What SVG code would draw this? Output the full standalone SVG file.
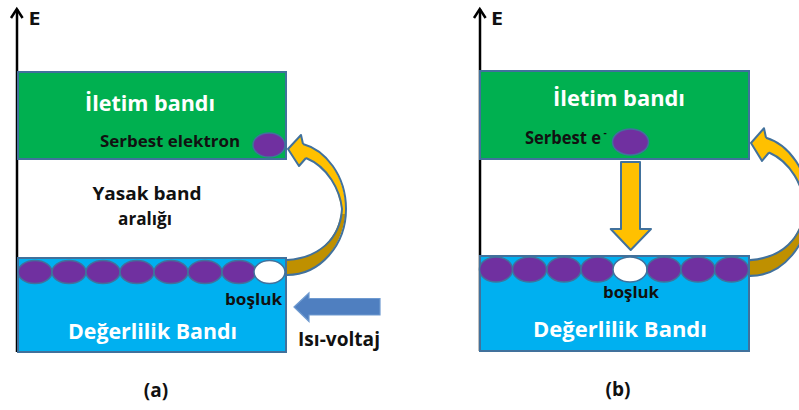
<svg xmlns="http://www.w3.org/2000/svg" width="799" height="410" viewBox="0 0 799 410">
<defs>
<style>
.t{font-family:"Open Sans","Liberation Sans",sans-serif;font-weight:bold;text-anchor:middle}
.w{fill:#ffffff}
.k{fill:#111111}
.band{stroke:#41719C;stroke-width:2}
.green{fill:#00B050}
.blue{fill:#00B0F0}
.pe{fill:#7030A0;stroke:#41719C;stroke-width:1.5}
.ho{fill:#ffffff;stroke:#41719C;stroke-width:1.5}
.axis{stroke:#000;stroke-width:2.5;fill:none}
.ol{fill:none;stroke:#41719C;stroke-width:2;stroke-linejoin:round}
</style>
<g id="curvedArrow">
<path d="M346,204 C346,245 320,275 287,275 L287,260 C318,258 340,240 342,204 Z" fill="#BF9000"/>
<path d="M288,149 L301,135 L303,144 C325,150 346,175 346,214 L342,214 C340,190 328,167 306,158 L299,166 Z" fill="#FFC000"/>
<path class="ol" d="M303,144 C325,150 346,175 346,209 C346,245 320,275 287,275"/>
<path class="ol" d="M306,158 C328,167 340,190 342,209 C340,240 318,258 287,260"/>
<path class="ol" d="M303,144 L301,135 L288,149 L299,166 L306,158"/>
</g>
</defs>

<!-- Panel (a) -->
<g id="axisA">
<line class="axis" x1="17" y1="9" x2="17" y2="352"/>
<polyline class="axis" points="11,18 16.8,9 22.6,18"/>
<text class="t k" x="34.5" y="25" font-size="18" textLength="12" lengthAdjust="spacingAndGlyphs">E</text>
</g>
<g id="conductionA">
<rect class="band green" x="18" y="72" width="268" height="87"/>
<text class="t w" x="150" y="111" font-size="21" textLength="130" lengthAdjust="spacingAndGlyphs">İletim bandı</text>
<text class="t k" x="170" y="147" font-size="16.5" textLength="140" lengthAdjust="spacingAndGlyphs">Serbest elektron</text>
<ellipse class="pe" cx="269" cy="145" rx="16" ry="12"/>
</g>
<g id="gapA">
<text class="t k" x="147" y="200" font-size="18" textLength="109" lengthAdjust="spacingAndGlyphs">Yasak band</text>
<text class="t k" x="145" y="225" font-size="18" textLength="54" lengthAdjust="spacingAndGlyphs">aralığı</text>
</g>
<g id="valenceA">
<rect class="band blue" x="18" y="258" width="268" height="94"/>
<ellipse class="pe" cx="35" cy="272" rx="17" ry="11.5"/>
<ellipse class="pe" cx="69" cy="272" rx="17" ry="11.5"/>
<ellipse class="pe" cx="103" cy="272" rx="17" ry="11.5"/>
<ellipse class="pe" cx="137" cy="272" rx="17" ry="11.5"/>
<ellipse class="pe" cx="171" cy="272" rx="17" ry="11.5"/>
<ellipse class="pe" cx="205" cy="272" rx="17" ry="11.5"/>
<ellipse class="pe" cx="239" cy="272" rx="17" ry="11.5"/>
<ellipse class="ho" cx="269.5" cy="272" rx="15.5" ry="11.5"/>
<text class="t k" x="253.5" y="305" font-size="16" textLength="57" lengthAdjust="spacingAndGlyphs">boşluk</text>
<text class="t w" x="152.5" y="339" font-size="21" textLength="169" lengthAdjust="spacingAndGlyphs">Değerlilik Bandı</text>
</g>
<g id="heatA">
<path d="M294,307 L309,293 L309,298.5 L380,298.5 L380,315 L309,315 L309,321.5 Z" fill="#4F7FC0" stroke="#6E9AD0" stroke-width="1.2"/>
<text class="t k" x="339" y="346" font-size="19" textLength="82" lengthAdjust="spacingAndGlyphs">Isı-voltaj</text>
</g>
<g id="connectorsA">
<use href="#curvedArrow"/>
</g>
<text class="t k" x="156" y="397" font-size="19">(a)</text>

<!-- Panel (b) -->
<g id="axisB">
<line class="axis" x1="480" y1="9" x2="480" y2="351"/>
<polyline class="axis" points="474,18 479.8,9 485.6,18"/>
<text class="t k" x="497" y="25" font-size="18" textLength="12" lengthAdjust="spacingAndGlyphs">E</text>
</g>
<g id="conductionB">
<rect class="band green" x="480" y="71" width="269" height="88"/>
<text class="t w" x="619" y="106" font-size="21" textLength="132" lengthAdjust="spacingAndGlyphs">İletim bandı</text>
<text class="t k" x="563" y="144" font-size="17" textLength="76" lengthAdjust="spacingAndGlyphs">Serbest e</text>
<text class="t k" x="605" y="136" font-size="10">-</text>
<ellipse class="pe" cx="630.5" cy="142" rx="18" ry="13"/>
</g>
<g id="valenceB">
<rect class="band blue" x="480" y="256" width="269" height="95"/>
<ellipse class="pe" cx="496" cy="269.5" rx="16.5" ry="12.5"/>
<ellipse class="pe" cx="529.5" cy="269.5" rx="17" ry="12.5"/>
<ellipse class="pe" cx="564" cy="269.5" rx="17" ry="12.5"/>
<ellipse class="pe" cx="597.5" cy="269.5" rx="16.5" ry="12.5"/>
<ellipse class="ho" cx="630" cy="269.5" rx="17" ry="12.5"/>
<ellipse class="pe" cx="664" cy="269.5" rx="17" ry="12.5"/>
<ellipse class="pe" cx="698" cy="269.5" rx="17" ry="12.5"/>
<ellipse class="pe" cx="731.5" cy="269.5" rx="17" ry="12.5"/>
<text class="t k" x="631" y="298" font-size="16" textLength="56" lengthAdjust="spacingAndGlyphs">boşluk</text>
<text class="t w" x="620" y="337" font-size="21" textLength="174" lengthAdjust="spacingAndGlyphs">Değerlilik Bandı</text>
</g>
<g id="connectorsB">
<path d="M621,162 L640,162 L640,229 L651,229 L630.7,250 L610.7,229 L621,229 Z" fill="#FFC000" stroke="#41719C" stroke-width="2" stroke-linejoin="round"/>
<use href="#curvedArrow" transform="matrix(1,0,0,1.055,463,-14.2)"/>
</g>
<text class="t k" x="618" y="396" font-size="19">(b)</text>
</svg>
